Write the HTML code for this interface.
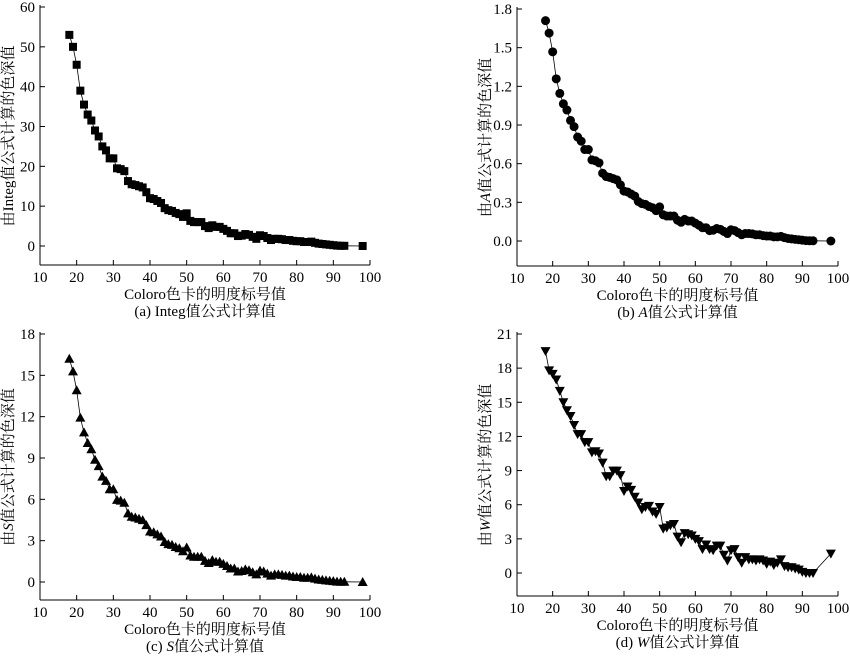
<!DOCTYPE html>
<html><head><meta charset="utf-8"><style>
body{margin:0;background:#fff;width:850px;height:654px;overflow:hidden}
svg text{font-family:"Liberation Serif","Noto Serif CJK SC","Noto Sans CJK SC",serif;font-size:15px;fill:#000}
</style></head><body>
<svg id="s" width="850" height="654" xmlns="http://www.w3.org/2000/svg"></svg>
<script>
const A={18:53,19:50,20:45.5,21:39,22:35.5,23:33,24:31.5,25:29,26:27.5,27:25,28:24,29:22,30:22,31:19.5,32:19.3,33:18.8,34:16.3,35:15.5,36:15.3,37:15,38:14.7,39:13.5,40:12,41:11.8,42:11.3,43:10.8,44:9.5,45:9,46:8.8,47:8.3,48:8,49:7.3,50:8.2,51:6.3,52:6,53:6,54:6,55:5,56:4.5,57:5.2,58:4.8,59:4.8,60:4.3,61:3.8,62:3.2,63:3.2,64:2.5,65:2.6,66:3,67:2.8,68:2.3,69:1.8,70:2.7,71:2.5,72:2,73:1.5,74:1.8,75:1.8,76:1.7,77:1.5,78:1.5,79:1.3,80:1.2,81:1.2,82:1,83:1,84:1.1,85:0.8,86:0.6,87:0.5,88:0.4,89:0.3,90:0.2,91:0.1,92:0.05,93:0.05,98:0};
const D={18:19.5,19:17.8,20:17.5,21:17,22:16,23:15,24:14.3,25:13.8,26:13,27:12.2,28:12.2,29:11.5,30:11.5,31:10.6,32:10.7,33:10.5,34:9.7,35:8.5,36:8.5,37:9,38:9,39:8.6,40:7.2,41:7.6,42:7.3,43:6.7,44:6.2,45:5.6,46:5.8,47:5.9,48:5.4,49:5.2,50:5.8,51:3.9,52:4,53:4.2,54:4.3,55:3.2,56:2.7,57:3.5,58:3.4,59:3.3,60:3,61:2.8,62:2.1,63:2.5,64:2.1,65:2,66:2.4,67:2.4,68:1.6,69:1.1,70:2,71:2.1,72:1.4,73:0.9,74:1.4,75:1.2,76:1.2,77:1.1,78:1.2,79:1.1,80:0.8,81:1,82:0.7,83:0.9,84:1.2,85:0.6,86:0.5,87:0.5,88:0.4,89:0.3,90:0.1,91:0,92:0,93:0,98:1.7};
const s=document.getElementById('s');let h='';
function panel(o){
 const {ax,x100,ytop,y0,axy,ymax,step,dec,data,mk,ylab,cap}=o;
 const X=v=>ax+(v-10)*(x100-ax)/90, Y=v=>y0-(v)*(y0-ytop)/ymax;
 h+=`<line x1="${ax}" y1="${ytop-2}" x2="${ax}" y2="${axy}" stroke="#000"/>`;
 h+=`<line x1="${ax}" y1="${axy}" x2="${x100}" y2="${axy}" stroke="#000"/>`;
 for(let v=0;v<=ymax+1e-9;v+=step){const y=Y(v);h+=`<line x1="${ax}" y1="${y}" x2="${ax+5}" y2="${y}" stroke="#000"/><text x="${ax-5}" y="${y+5}" text-anchor="end">${v.toFixed(dec)}</text>`;}
 for(let v=10;v<=100;v+=10){const x=X(v);h+=`<line x1="${x}" y1="${axy}" x2="${x}" y2="${axy-5}" stroke="#000"/><text x="${x}" y="${axy+17}" text-anchor="middle">${v}</text>`;}
 const ks=Object.keys(data).map(Number).sort((a,b)=>a-b);
 h+=`<polyline fill="none" stroke="#000" stroke-width="0.8" points="${ks.map(k=>X(k)+','+Y(data[k])).join(' ')}"/>`;
 for(const k of ks){const x=X(k),y=Y(data[k]);
  if(mk=='s')h+=`<rect x="${x-4}" y="${y-4}" width="8" height="8"/>`;
  else if(mk=='c')h+=`<circle cx="${x}" cy="${y}" r="4.5"/>`;
  else if(mk=='t')h+=`<polygon points="${x},${y-5} ${x-5},${y+4} ${x+5},${y+4}"/>`;
  else h+=`<polygon points="${x},${y+5} ${x-5},${y-4} ${x+5},${y-4}"/>`;}
 const cx=(ax+x100)/2;
 h+=`<text x="${cx}" y="${axy+34}" text-anchor="middle">Coloro色卡的明度标号值</text>`;
 h+=`<text x="${cx}" y="${axy+51}" text-anchor="middle">${cap}</text>`;
 const ly=(ytop+axy)/2;
 h+=`<text transform="translate(${ax-27},${ly}) rotate(-90)" text-anchor="middle">${ylab}</text>`;
}
const B={},C={};for(const k in A){B[k]=A[k]/31;C[k]=A[k]/3.27;}
panel({ax:40,x100:370,ytop:7,y0:246,axy:265,ymax:60,step:10,dec:0,data:A,mk:'s',ylab:'由Integ值公式计算的色深值',cap:'(a) Integ值公式计算值'});
panel({ax:517,x100:838,ytop:9,y0:241,axy:266,ymax:1.8,step:0.3,dec:1,data:B,mk:'c',ylab:'由<tspan font-style="italic">A</tspan>值公式计算的色深值',cap:'(b) <tspan font-style="italic">A</tspan>值公式计算值'});
panel({ax:40,x100:370,ytop:334,y0:582,axy:600,ymax:18,step:3,dec:0,data:C,mk:'t',ylab:'由<tspan font-style="italic">S</tspan>值公式计算的色深值',cap:'(c) <tspan font-style="italic">S</tspan>值公式计算值'});
panel({ax:517,x100:838,ytop:334,y0:573,axy:596,ymax:21,step:3,dec:0,data:D,mk:'v',ylab:'由<tspan font-style="italic">W</tspan>值公式计算的色深值',cap:'(d) <tspan font-style="italic">W</tspan>值公式计算值'});
s.innerHTML=h;
</script>
</body></html>
